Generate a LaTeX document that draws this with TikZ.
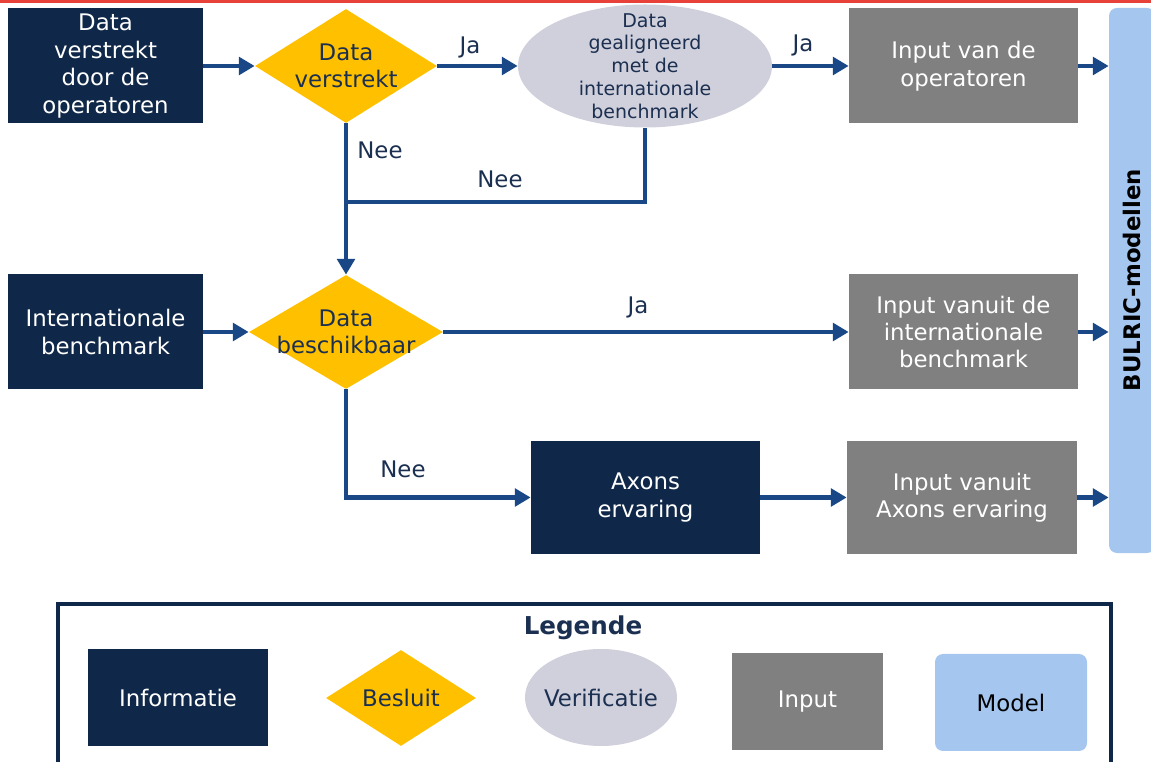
\documentclass[tikz,border=0pt]{standalone}
\usepackage{fontspec}
\setmainfont{DejaVu Sans}
\usetikzlibrary{shapes,arrows.meta}
\usetikzlibrary{positioning}

\definecolor{navy}{HTML}{0F2748}
\definecolor{txtblue}{HTML}{1B2F50}
\definecolor{gold}{HTML}{FFC000}
\definecolor{lilac}{HTML}{D0D0DC}
\definecolor{midgray}{HTML}{808080}
\definecolor{skyblue}{HTML}{A5C6EF}
\definecolor{linkblue}{HTML}{1A4785}
\definecolor{topred}{HTML}{E8413A}

\begin{document}
\begin{tikzpicture}[x=0.2mm,y=-0.2mm,
    every node/.style={inner sep=0pt,align=center,font=\fontsize{13}{15.6}\selectfont},
    info/.style={fill=navy,text=white,minimum width=39mm,minimum height=23mm},
    besluit/.style={diamond,fill=gold,minimum width=36.4mm,minimum height=22.8mm},
    verif/.style={ellipse,fill=lilac,minimum width=50.8mm,minimum height=24.6mm},
    inputbox/.style={fill=midgray,text=white,minimum width=45.8mm,minimum height=23mm},
    model/.style={fill=skyblue,rounded corners=1.6mm},
    conn/.style={draw=linkblue,line width=2.3pt,-{Triangle[length=9pt,width=10pt]}},
    plain/.style={draw=linkblue,line width=2.3pt},
    lbl/.style={text=txtblue}
    ]
    \useasboundingbox (0,0) rectangle (1151,762);
    \fill[topred] (0,0) rectangle (1151,3);

    % top row
    \node[info] (ops) at (105.5,66) {Data\\verstrekt\\door de\\operatoren};
    \node[besluit,label={[lbl]center:Data\\verstrekt}] (dia1) at (346,66) {};
    \node[verif,label={[lbl,font=\fontsize{10.8}{13}\selectfont]center:Data\\gealigneerd\\met de\\internationale\\benchmark}] (align) at (645,66) {};
    \node[inputbox] (inops) at (963.5,66) {Input van de\\operatoren};

    % middle row
    \node[info] (bench) at (105.5,332) {Internationale\\benchmark};
    \node[besluit,minimum width=38.8mm,label={[lbl]center:Data\\beschikbaar}] (dia2) at (346,332) {};
    \node[inputbox] (inbench) at (963.5,332) {Input vanuit de\\internationale\\benchmark};

    % bottom row
    \node[info,minimum width=45.8mm,minimum height=22.6mm] (axons) at (645.5,497.5) {Axons\\ervaring};
    \node[inputbox,minimum width=46mm,minimum height=22.6mm] (inaxons) at (962,497.5) {Input vanuit\\Axons ervaring};

    % model bar
    \node[model,minimum width=9.2mm,minimum height=109mm] (bar) at (1132,280.5) {};
    \node[rotate=90,font=\fontsize{13}{15.6}\selectfont\bfseries,text=black] (barlabel) at (1132,280) {BULRIC-modellen};

    % connectors
    \draw[conn] (ops) -- (dia1);
    \draw[conn] (dia1) -- (align);
    \draw[conn] (align) -- (inops);
    \draw[conn] (dia1) -- (dia2);
    \coordinate (join) at (345,202);
    \draw[plain] (align.south) |- (join);
    \draw[conn] (bench) -- (dia2);
    \draw[conn] (dia2) -- (inbench);
    \draw[conn] (dia2) |- (axons);
    \draw[conn] (axons) -- (inaxons);
    \draw[conn] (inops) -- (inops -| bar.west);
    \draw[conn] (inbench) -- (inbench -| bar.west);
    \draw[conn] (inaxons) -- (inaxons -| bar.west);

    % labels
    \node[lbl] (ja1) at (470,47) {Ja};
    \node[lbl] (ja2) at (803,45) {Ja};
    \node[lbl] (nee1) at (380,150) {Nee};
    \node[lbl] (nee2) at (500,179) {Nee};
    \node[lbl] (ja3) at (638,307) {Ja};
    \node[lbl] (nee3) at (403,469) {Nee};

    % legend
    \draw[navy,line width=1.8pt] (58,604) rectangle (1111,790);
    \node[lbl,font=\fontsize{14}{16.8}\selectfont\bfseries] (legtitle) at (583,628) {Legende};
    \node[info,minimum width=36mm,minimum height=19.4mm] (leginfo) at (178,697.5) {Informatie};
    \node[besluit,minimum width=30mm,minimum height=19.2mm,label={[lbl]center:Besluit}] (legdia) at (401,698) {};
    \node[verif,minimum width=30.4mm,minimum height=19.4mm,label={[lbl]center:Verificatie}] (legverif) at (601,697.5) {};
    \node[inputbox,minimum width=30.2mm,minimum height=19.4mm] (leginput) at (807.5,701.5) {Input};
    \node[model,minimum width=30.4mm,minimum height=19.4mm,text=black] (legmodel) at (1011,702.5) {Model};
\end{tikzpicture}
\end{document}
